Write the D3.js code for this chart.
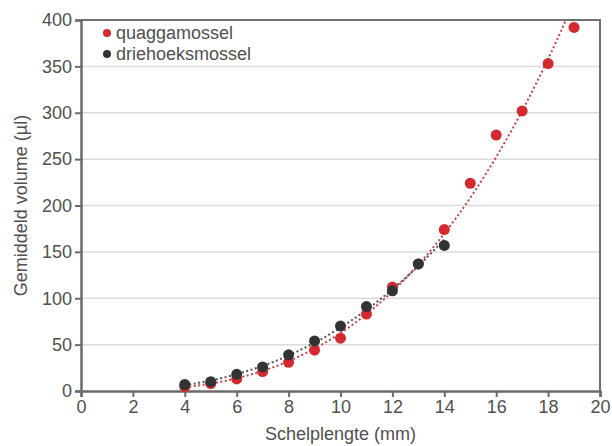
<!DOCTYPE html>
<html>
<head>
<meta charset="utf-8">
<script src="https://cdn.jsdelivr.net/npm/d3@7"></script>
<style>
  body { margin: 0; background: #fff; }
  text { font-family: "Liberation Sans", Arial, sans-serif; fill: #505050; }
</style>
</head>
<body>
<svg id="chart" width="612" height="446"></svg>
<script>
// data
const quaggaLength = [4, 5, 6, 7, 8, 9, 10, 11, 12, 13, 14, 15, 16, 17, 18, 19];
const quaggaVolume = [4.5, 8, 13, 21, 31, 44, 57, 83, 112, 137, 174, 224, 276, 302, 353, 392];
const driehoekLength = [4, 5, 6, 7, 8, 9, 10, 11, 12, 13, 14];
const driehoekVolume = [7, 10, 18, 26, 39, 54, 70, 91, 108, 137, 157];
const xTicks = [0, 2, 4, 6, 8, 10, 12, 14, 16, 18, 20];
const yTicks = [0, 50, 100, 150, 200, 250, 300, 350, 400];
const seriesNames = ["quaggamossel", "driehoeksmossel"];
const seriesColors = ["#d42a2f", "#333333"];

const plotLeft = 81, plotRight = 600, plotTop = 20, plotBottom = 391;

const svg = d3.select("#chart");

const x = d3.scaleLinear().domain([0, 20]).range([plotLeft, plotRight]);
const y = d3.scaleLinear().domain([0, 400]).range([plotBottom, plotTop]);

// power trend line  v = a * L^b  (least squares on logs)
function powerFit(X, Y) {
    const lx = X.map(Math.log), ly = Y.map(Math.log);
    const mx = d3.mean(lx), my = d3.mean(ly);
    const b = d3.sum(lx, (v, i) => (v - mx) * (ly[i] - my)) / d3.sum(lx, v => (v - mx) * (v - mx));
    const a = Math.exp(my - b * mx);
    return L => a * Math.pow(L, b);
}

// gridlines
svg.append("g")
    .selectAll("line")
    .data(yTicks.filter(d => d > 0 && d < 400))
    .join("line")
    .attr("x1", plotLeft).attr("x2", plotRight)
    .attr("y1", d => y(d)).attr("y2", d => y(d))
    .attr("stroke", "#dcdcdc")
    .attr("stroke-width", 1.5);

// frame top / right
svg.append("path")
    .attr("d", `M${plotLeft},${plotTop}H${plotRight}V${plotBottom}`)
    .attr("fill", "none")
    .attr("stroke", "#707070")
    .attr("stroke-width", 2);

// axes
const xAxis = svg.append("g")
    .attr("transform", `translate(0,${plotBottom})`)
    .call(d3.axisBottom(x).tickValues(xTicks).tickSize(6).tickPadding(3));
const yAxis = svg.append("g")
    .attr("transform", `translate(${plotLeft},0)`)
    .call(d3.axisLeft(y).tickValues(yTicks).tickSize(6).tickPadding(3));

[xAxis, yAxis].forEach(g => {
    g.select(".domain").attr("stroke", "#6b6b6b").attr("stroke-width", 2.5);
    g.selectAll(".tick line").attr("stroke", "#6b6b6b").attr("stroke-width", 2);
    g.selectAll(".tick text")
        .attr("fill", "#505050")
        .style("font-family", "Liberation Sans, Arial, sans-serif")
        .style("font-size", "18px");
});

// clip for trend lines
svg.append("clipPath").attr("id", "plotClip")
    .append("rect")
    .attr("x", plotLeft).attr("y", plotTop)
    .attr("width", plotRight - plotLeft).attr("height", plotBottom - plotTop);

const line = d3.line().x(d => x(d[0])).y(d => y(d[1]));

const qFit = powerFit(quaggaLength, quaggaVolume);
const dFit = powerFit(driehoekLength, driehoekVolume);

const qLine = d3.range(4, 19.6, 0.1).map(L => [L, qFit(L)]);
const dLine = d3.range(4, 14.05, 0.1).map(L => [L, dFit(L)]);

svg.append("path")
    .datum(qLine)
    .attr("clip-path", "url(#plotClip)")
    .attr("d", line)
    .attr("fill", "none")
    .attr("stroke", "#c8404a")
    .attr("stroke-width", 2)
    .attr("stroke-dasharray", "2,2.5");

svg.append("path")
    .datum(dLine)
    .attr("clip-path", "url(#plotClip)")
    .attr("d", line)
    .attr("fill", "none")
    .attr("stroke", "#555555")
    .attr("stroke-width", 2)
    .attr("stroke-dasharray", "2,2.5");

// points
svg.append("g")
    .selectAll("circle")
    .data(quaggaLength.map((L, i) => [L, quaggaVolume[i]]))
    .join("circle")
    .attr("cx", d => x(d[0]))
    .attr("cy", d => y(d[1]))
    .attr("r", 5.5)
    .attr("fill", seriesColors[0]);

svg.append("g")
    .selectAll("circle")
    .data(driehoekLength.map((L, i) => [L, driehoekVolume[i]]))
    .join("circle")
    .attr("cx", d => x(d[0]))
    .attr("cy", d => y(d[1]))
    .attr("r", 5.5)
    .attr("fill", seriesColors[1]);

// legend
const legend = svg.append("g")
    .selectAll("g")
    .data(seriesNames)
    .join("g")
    .attr("transform", (d, i) => `translate(107,${33 + i * 21})`);

legend.append("circle")
    .attr("r", 4)
    .attr("fill", (d, i) => seriesColors[i]);

legend.append("text")
    .attr("x", 9)
    .attr("y", 6)
    .style("font-size", "18px")
    .text(d => d);

// axis titles
svg.append("text")
    .attr("x", (plotLeft + plotRight) / 2)
    .attr("y", 440)
    .attr("text-anchor", "middle")
    .style("font-size", "18px")
    .text("Schelplengte (mm)");

svg.append("text")
    .attr("transform", `translate(27,${(plotTop + plotBottom) / 2}) rotate(-90)`)
    .attr("text-anchor", "middle")
    .style("font-size", "18px")
    .text("Gemiddeld volume (µl)");
</script>
</body>
</html>
